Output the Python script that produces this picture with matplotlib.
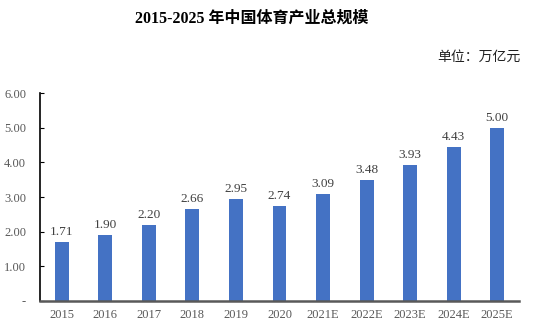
import matplotlib
matplotlib.use("Agg")
import matplotlib.pyplot as plt
from matplotlib.ticker import FixedLocator, FuncFormatter

years = ["2015", "2016", "2017", "2018", "2019", "2020", "2021E", "2022E", "2023E", "2024E", "2025E"]
values = [1.71, 1.90, 2.20, 2.66, 2.95, 2.74, 3.09, 3.48, 3.93, 4.43, 5.00]
yticks = [0, 1, 2, 3, 4, 5, 6]
title = "2015-2025 年中国体育产业总规模"
unit = "单位：万亿元"

serif = ["Liberation Serif", "Noto Sans CJK SC", "DejaVu Serif"]
cjk = ["Liberation Serif", "Noto Sans CJK SC", "DejaVu Sans"]

fig = plt.figure(figsize=(5.4, 3.26), dpi=100)
ax = fig.add_axes([40/540, 1-301/326, 479/540, 208/326])

x = list(range(len(years)))
bars = ax.bar(x, values, width=0.32, color="#4472C4", zorder=2)
for xi, v in zip(x, values):
    ax.text(xi, v + 0.12, f"{v:.2f}", ha="center", va="bottom",
            fontsize=9.5, family=serif, color="#404040")

ax.set_xlim(-0.5, len(years) - 0.5)
ax.set_ylim(0, 6)
ax.set_xticks(x)
ax.set_xticklabels(years, family=serif, fontsize=9, color="#595959")
ax.yaxis.set_major_locator(FixedLocator(yticks))
ax.yaxis.set_major_formatter(FuncFormatter(lambda v, p: "-" if v == 0 else f"{v:.2f}"))
for lbl in ax.get_yticklabels():
    lbl.set_family(serif)
    lbl.set_fontsize(9)
    lbl.set_color("#595959")

ax.tick_params(axis="x", length=0, pad=6)
ax.tick_params(axis="y", direction="in", length=3, width=0.8, pad=10, color="black")
for s in ["top", "right"]:
    ax.spines[s].set_visible(False)
ax.spines["left"].set_color("black")
ax.spines["left"].set_linewidth(1.2)
ax.spines["bottom"].set_color("#595959")
ax.spines["bottom"].set_linewidth(1.8)

fig.text(252/540, 1-19/326, title, ha="center", va="center", fontsize=11.5,
         fontweight="bold", family=cjk, color="black")
fig.text(520/540, 1-57/326, unit, ha="right", va="center", fontsize=10,
         family=cjk, color="#222222")

fig.savefig("out.png", dpi=100)
